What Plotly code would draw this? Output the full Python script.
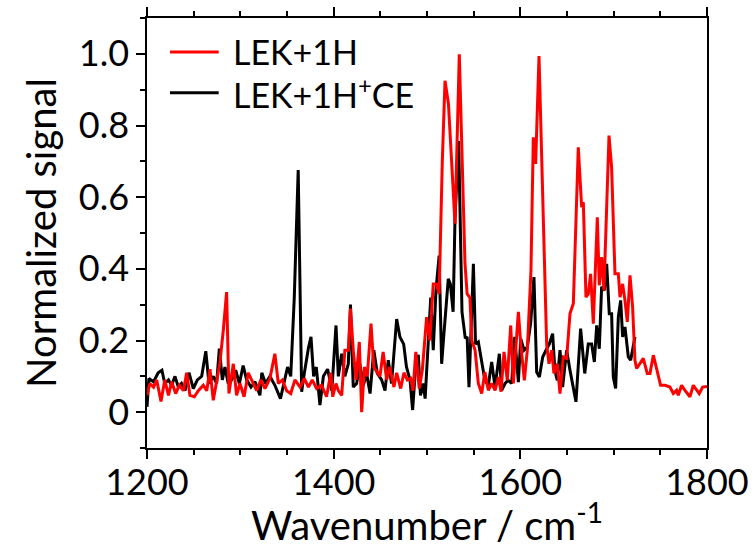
import plotly.graph_objects as go

# LEK+1H (red)
red_x = [1200, 1203, 1207, 1210.4, 1215, 1219, 1223, 1226.4, 1230.7, 1234.6, 1239, 1242.5, 1246, 1250.7, 1255,
         1260.3, 1264, 1267.5, 1271, 1274.6, 1278, 1281.8, 1285.3, 1287.8, 1292.5, 1296, 1299.6, 1304, 1308.5, 1312,
         1317.5, 1322, 1326.4, 1331.7, 1337, 1340.7, 1345, 1349.6, 1354, 1358.5, 1364, 1368.5, 1373, 1377, 1381.7,
         1387, 1392.4, 1397, 1399, 1402.5, 1405, 1408.6, 1412, 1415.7, 1418, 1421, 1424, 1427.5, 1430, 1433, 1436,
         1440, 1443, 1446.8, 1449.6, 1453, 1456.8, 1460, 1464.6, 1467.5, 1471.8, 1475.3, 1479, 1482.5, 1485, 1488,
         1491.7, 1495, 1499.6, 1503, 1506.7, 1510, 1513, 1516.4, 1519.3, 1523, 1526.5, 1530, 1534.6, 1537.5, 1540.7,
         1543, 1546, 1548, 1551.5, 1555, 1558.6, 1562, 1565.7, 1569.3, 1572.9, 1576.5, 1579.3, 1582.5, 1586, 1589.7,
         1592.5, 1595, 1597.9, 1600.7, 1604.3, 1607.5, 1611.4, 1613.9, 1616.4, 1620, 1622.9, 1625.4, 1628.2, 1630.7,
         1633.6, 1636, 1639.6, 1642.5, 1646, 1649.6, 1653.2, 1656.8, 1662.1, 1665.7, 1667.5, 1670.3, 1672.8, 1675.3,
         1678.2, 1682.5, 1684.6, 1687.1, 1689.6, 1695, 1697.8, 1701.4, 1705, 1706.8, 1709.6, 1712.1, 1714.6, 1717.5,
         1720.3, 1722.8, 1724.6, 1728, 1731.7, 1736, 1738.9, 1742.5, 1746.7, 1750.3, 1755, 1760.3, 1763.9, 1767.4,
         1769.2, 1772.8, 1776.4, 1781.7, 1785.3, 1788.9, 1791.7, 1795.3, 1800]
red_y = [0.047, 0.08, 0.07, 0.09, 0.03, 0.09, 0.047, 0.085, 0.052, 0.075, 0.06, 0.11, 0.047, 0.043, 0.06,
         0.075, 0.06, 0.12, 0.033, 0.08, 0.135, 0.23, 0.335, 0.052, 0.135, 0.047, 0.08, 0.043, 0.11, 0.09,
         0.06, 0.09, 0.066, 0.094, 0.163, 0.08, 0.09, 0.06, 0.052, 0.09, 0.07, 0.094, 0.07, 0.09, 0.066,
         0.075, 0.043, 0.11, 0.043, 0.08, 0.06, 0.047, 0.173, 0.173, 0.289, 0.173, 0.09, 0.196, 0.0, 0.126, 0.10,
         0.247, 0.126, 0.11, 0.10, 0.168, 0.09, 0.126, 0.07, 0.11, 0.066, 0.11, 0.09, 0.094, 0.06, 0.168,
         0.066, 0.117, 0.265, 0.20, 0.358, 0.358, 0.33, 0.70, 0.925, 0.86, 0.68, 0.526, 0.999, 0.70, 0.415,
         0.33, 0.32, 0.2, 0.173, 0.08, 0.052, 0.112, 0.061, 0.08, 0.061, 0.098, 0.057, 0.168, 0.089, 0.242,
         0.08, 0.173, 0.28, 0.182, 0.089, 0.173, 0.396, 0.767, 0.693, 0.994, 0.693, 0.414, 0.19, 0.135,
         0.173, 0.108, 0.135, 0.052, 0.154, 0.15, 0.275, 0.303, 0.739, 0.572, 0.586, 0.321, 0.33, 0.386,
         0.247, 0.544, 0.354, 0.433, 0.34, 0.772, 0.683, 0.386, 0.386, 0.321, 0.358, 0.312, 0.252, 0.382,
         0.293, 0.145, 0.122, 0.135, 0.15, 0.108, 0.108, 0.159, 0.117, 0.075, 0.075, 0.07, 0.052, 0.061,
         0.047, 0.075, 0.061, 0.043, 0.075, 0.061, 0.052, 0.07, 0.072]

# LEK+1H+CE (black)
black_x = [1200, 1202, 1207, 1212, 1216, 1219, 1223, 1226.4, 1230, 1233.6, 1237, 1240.7, 1245, 1249.6, 1254,
           1258.6, 1263, 1266.4, 1271, 1274.6, 1277.5, 1280.7, 1283.5, 1287, 1290.7, 1295, 1299, 1303, 1306.8,
           1311.4, 1315.7, 1321, 1323, 1327, 1331.7, 1337, 1343, 1347.8, 1350.6, 1354, 1357.8, 1362, 1365.7,
           1368.5, 1373, 1375.7, 1378.5, 1381.4, 1385.3, 1389, 1393.5, 1396, 1398, 1402.5, 1405, 1408.6, 1412,
           1415.7, 1418, 1421, 1424.6, 1428, 1431.8, 1435.3, 1439, 1443, 1446.8, 1451.4, 1455, 1458.5, 1462,
           1467.5, 1471, 1475, 1478, 1481.8, 1484.6, 1488, 1490.7, 1493, 1496, 1498, 1501, 1504, 1506.7, 1509.6,
           1513, 1515.7, 1518, 1522.8, 1525, 1528, 1530, 1533.9, 1537.5, 1541, 1543, 1545, 1549.7, 1552, 1555,
           1558.6, 1562, 1565.7, 1569.3, 1572.9, 1577.5, 1580, 1583.6, 1587, 1590.7, 1594, 1597.9, 1600.4, 1604,
           1607.5, 1611, 1614.6, 1617.5, 1620.4, 1624, 1627.5, 1631, 1634.6, 1637, 1639.6, 1642.5, 1645.3,
           1649.6, 1653.2, 1656.8, 1659.6, 1664.6, 1669, 1672.8, 1676.4, 1679.3, 1681.8, 1684.6, 1687.1, 1690,
           1692.5, 1695.3, 1697.8, 1699.6, 1702.1, 1705, 1707.5, 1709.6, 1712.1, 1715.7, 1718.2, 1722.8]
black_y = [0.015, 0.094, 0.085, 0.11, 0.117, 0.08, 0.09, 0.075, 0.10, 0.07, 0.08, 0.06, 0.11, 0.066, 0.09,
           0.1, 0.17, 0.08, 0.1, 0.08, 0.177, 0.09, 0.126, 0.08, 0.09, 0.117, 0.08, 0.13, 0.09,
           0.07, 0.085, 0.047, 0.11, 0.08, 0.1, 0.075, 0.038, 0.09, 0.126, 0.1, 0.32, 0.676, 0.057,
           0.108, 0.18, 0.21, 0.10, 0.126, 0.02, 0.10, 0.12, 0.09, 0.06, 0.242, 0.10, 0.163, 0.10,
           0.135, 0.30, 0.07, 0.08, 0.135, 0.075, 0.108, 0.052, 0.173, 0.108, 0.09, 0.06, 0.145, 0.08,
           0.26, 0.21, 0.19, 0.126, 0.09, 0.006, 0.135, 0.16, 0.047, 0.08, 0.038, 0.18, 0.32, 0.173, 0.34,
           0.437, 0.135, 0.214, 0.372, 0.358, 0.28, 0.54, 0.757, 0.28, 0.206, 0.21, 0.07, 0.414, 0.19, 0.196,
           0.135, 0.089, 0.075, 0.14, 0.07, 0.163, 0.061, 0.08, 0.089, 0.08, 0.21, 0.084, 0.205, 0.173,
           0.182, 0.247, 0.377, 0.112, 0.098, 0.154, 0.173, 0.19, 0.219, 0.117, 0.089, 0.173, 0.07,
           0.173, 0.117, 0.061, 0.029, 0.233, 0.108, 0.19, 0.19, 0.14, 0.242, 0.177, 0.35, 0.34,
           0.414, 0.275, 0.275, 0.098, 0.066, 0.266, 0.312, 0.21, 0.238, 0.154, 0.145, 0.21]

series_names = ["LEK+1H", "LEK+1H<sup>+</sup>CE"]
series_colors = ["#ff0000", "#000000"]

y_tick_vals = [0, 0.2, 0.4, 0.6, 0.8, 1.0]
y_tick_text = ["0", "0.2", "0.4", "0.6", "0.8", "1.0"]
x_tick_vals = [1200, 1400, 1600, 1800]

FONT = "Lato"

fig = go.Figure()
fig.add_trace(go.Scatter(x=black_x, y=black_y, mode="lines", name=series_names[1],
                         line=dict(color=series_colors[1], width=3), showlegend=False))
fig.add_trace(go.Scatter(x=red_x, y=red_y, mode="lines", name=series_names[0],
                         line=dict(color=series_colors[0], width=3), showlegend=False))

# manual legend (longer line samples than plotly's built-in legend)
legend_rows = [0.921, 0.826]
for name, color, yy in zip(series_names, series_colors, legend_rows):
    fig.add_shape(type="line", xref="paper", yref="paper", x0=0.041, x1=0.128, y0=yy, y1=yy,
                  line=dict(color=color, width=3))
    fig.add_annotation(xref="paper", yref="paper", x=0.15, y=yy, text=name, showarrow=False,
                       xanchor="left", yanchor="middle", font=dict(family=FONT, size=34, color="black"))

fig.update_layout(
    width=755, height=549,
    margin=dict(l=147, r=48, t=18, b=101, autoexpand=False),
    paper_bgcolor="white", plot_bgcolor="white",
    font=dict(family=FONT, color="black"),
)
fig.update_xaxes(
    range=[1200, 1800], tickvals=x_tick_vals, ticks="outside", ticklen=9, tickwidth=1.5,
    tickcolor="black", showline=True, linecolor="black", linewidth=1.5, mirror="ticks",
    showgrid=False, zeroline=False, tickfont=dict(family=FONT, size=36), automargin=False,
    ticklabelstandoff=-7,
    minor=dict(dtick=50, ticks="outside", ticklen=5, tickwidth=1.5, tickcolor="black"),
    title=dict(text="Wavenumber / cm<sup>-1</sup>", font=dict(family=FONT, size=40), standoff=13),
)
fig.update_yaxes(
    range=[-0.1, 1.1], tickvals=y_tick_vals, ticktext=y_tick_text, ticks="outside", ticklen=9,
    tickwidth=1.5, tickcolor="black", showline=True, linecolor="black", linewidth=1.5, mirror=True,
    showgrid=False, zeroline=False, tickfont=dict(family=FONT, size=36), automargin=False,
    minor=dict(dtick=0.1, tick0=0, ticks="outside", ticklen=5, tickwidth=1.5, tickcolor="black"),
    title=dict(text="Normalized signal", font=dict(family=FONT, size=40), standoff=10),
)

fig.write_html("out.html")
